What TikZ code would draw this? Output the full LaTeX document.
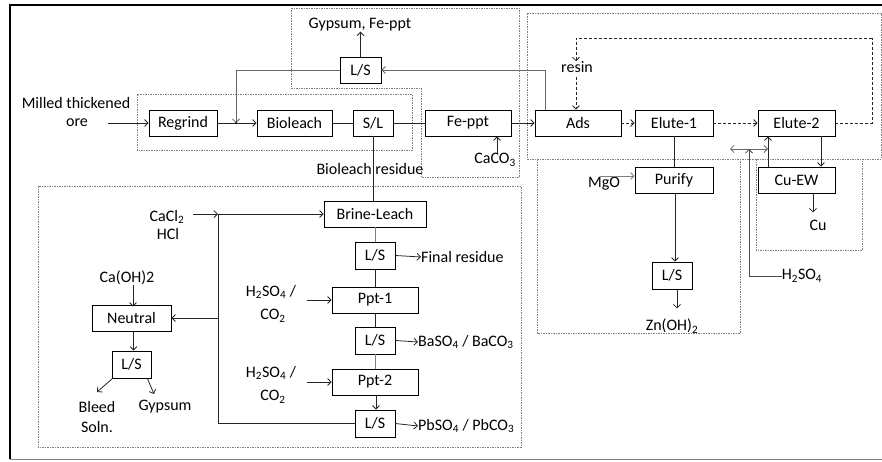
\documentclass[tikz,border=0pt]{standalone}
\usepackage{fontspec}
\setmainfont{Carlito}
\usetikzlibrary{arrows.meta,calc}
\newcommand{\sbs}[1]{\textsubscript{#1}}
\begin{document}
\begin{tikzpicture}[x=1pt,y=-1pt,
  font=\fontsize{16}{18}\selectfont,
  box/.style={draw, line width=0.8pt, inner sep=0pt, minimum height=26pt},
  lbl/.style={inner sep=0pt},
  ln/.style={line width=0.8pt, draw=black!85},
  arr/.style={ln, -{Straight Barb[length=3.5pt,width=7pt]}},
  darr/.style={arr, dash pattern=on 3pt off 2pt},
  dln/.style={ln, dash pattern=on 3pt off 2pt},
  grp/.style={draw=gray, line width=0.7pt, dash pattern=on 1.5pt off 1pt}]
\useasboundingbox (0,0) rectangle (882,461);
% outer frame
\draw[line width=2.5pt] (10,459) -- (10,5) -- (882,5);
\draw[gray, line width=0.8pt] (10,459) -- (882,459);
% group boxes
\draw[grp] (291,8) -- (519,8) -- (519,177) -- (421,177) -- (421,88) -- (291,88) -- cycle;
\draw[grp] (137,94) rectangle (412,150);
\draw[grp] (527,13) -- (881,13) -- (881,159) -- (527,159) -- cycle;
\draw[grp] (537,159) -- (537,333) -- (740,333) -- (740,159);
\draw[grp] (756,159) -- (756,250) -- (862,250) -- (862,159);
\draw[grp] (38,186) rectangle (521,447);
% process boxes
\node[box, minimum width=68pt] (regrind) at (183,123) {Regrind};
\node[box, minimum width=75pt] (bioleach) at (294.5,123) {Bioleach};
\node[box, minimum width=40pt] (sl) at (373,123) {S/L};
\node[box, minimum width=86pt] (feppt) at (468,123) {Fe-ppt};
\node[box, minimum width=41pt] (lstop) at (360.5,70) {L/S};
\node[box, minimum width=86pt] (ads) at (578,123) {Ads};
\node[box, minimum width=78pt] (elute1) at (674,123) {Elute-1};
\node[box, minimum width=77pt] (elute2) at (796.5,123) {Elute-2};
\node[box, minimum width=77pt] (cuew) at (796.5,180) {Cu-EW};
\node[box, minimum width=78pt] (purify) at (674,180) {Purify};
\node[box, minimum width=40pt, minimum height=27pt] (lszn) at (672,275.5) {L/S};
\node[box, minimum width=102pt] (brine) at (375,214) {Brine-Leach};
\node[box, minimum width=40pt, minimum height=27pt] (ls1) at (375,255.5) {L/S};
\node[box, minimum width=86pt] (ppt1) at (375,300) {Ppt-1};
\node[box, minimum width=40pt, minimum height=27pt] (ls2) at (375,340.5) {L/S};
\node[box, minimum width=86pt] (ppt2) at (375,382) {Ppt-2};
\node[box, minimum width=40pt, minimum height=27pt] (ls3) at (375,423.5) {L/S};
\node[box, minimum width=79pt] (neutral) at (131.5,318) {Neutral};
\node[box, minimum width=39pt, minimum height=27pt] (lsleft) at (131.5,364.5) {L/S};
% labels
\node[lbl] (milled) at (76,103) {Milled thickened};
\node[lbl] (ore) at (77,123) {ore};
\node[lbl] (gypfe) at (360,25) {Gypsum, Fe-ppt};
\node[lbl] (caco3) at (495,160) {CaCO\sbs{3}};
\node[lbl] (bres) at (370,169) {Bioleach residue};
\node[lbl] (resin) at (577,67) {resin};
\node[lbl] (mgo) at (604,184) {MgO};
\node[lbl] (znoh) at (672,326) {Zn(OH)\sbs{2}};
\node[lbl] (cu) at (818,225) {Cu};
\node[lbl] (h2so4r) at (802,276) {H\sbs{2}SO\sbs{4}};
\node[lbl, anchor=west] (finres) at (421,257) {Final residue};
\node[lbl, anchor=west] (baso4) at (418,342) {BaSO\sbs{4} / BaCO\sbs{3}};
\node[lbl, anchor=west] (pbso4) at (418,426) {PbSO\sbs{4} / PbCO\sbs{3}};
\node[lbl] (cacl2) at (167,217) {CaCl\sbs{2}};
\node[lbl] (hcl) at (168,234) {HCl};
\node[lbl] (caoh2) at (127,278) {Ca(OH)2};
\node[lbl] (hs1) at (271,292) {H\sbs{2}SO\sbs{4} /};
\node[lbl] (co1) at (273,316) {CO\sbs{2}};
\node[lbl] (hs2) at (271,373) {H\sbs{2}SO\sbs{4} /};
\node[lbl] (co2) at (273,397) {CO\sbs{2}};
\node[lbl] (bleed) at (97,407) {Bleed};
\node[lbl] (soln) at (97,427) {Soln.};
\node[lbl] (gyps) at (165,407) {Gypsum};
% free-end coordinates
\coordinate (oreout) at (108,123);
\coordinate (j1) at (236,123);
\coordinate (r1) at (872,38);
\coordinate (m1) at (600,176);
\coordinate (d1) at (730,149);
\coordinate (d2) at (768,149);
\coordinate (h1) at (749,276);
\coordinate (h2) at (749,149);
\coordinate (c1) at (193,214);
\coordinate (c2) at (218,214);
\coordinate (c3) at (218,318);
\coordinate (p1) at (307,300);
\coordinate (p2) at (307,382);
\coordinate (bl) at (97,392);
\coordinate (gy) at (154,394);
% connectors top row
\draw[arr] (oreout) -- (regrind.west);
\draw[arr] (regrind.east) -- (bioleach.west);
\draw[arr, draw=black!60] (lstop.west) -| (j1);
\fill (j1) circle (1.2pt);
\draw[ln] (bioleach.east) -- (sl.west);
\draw[ln] (sl.east) -- (feppt.west);
\draw[arr] (feppt.east) -- (ads.west);
\draw[arr, draw=black!60] ([xshift=-33pt]ads.north) |- (lstop.east);
\draw[arr] (lstop.north) -- (lstop.north |- gypfe.south);
\draw[arr] ([xshift=2pt]caco3.north) -- ([xshift=2pt]caco3.north |- feppt.south);
\draw[ln] (sl.south) -- (sl.south |- brine.north);
% resin loop
\draw[dln] (elute2.east) -| (r1);
\draw[darr] (r1) -| ([xshift=-1pt]resin.north);
\draw[darr] ([xshift=-1pt,yshift=-4pt]resin.south) -- ([xshift=-1pt]resin.south |- ads.north);
\draw[darr] (ads.east) -- (elute1.west);
\draw[darr] (elute1.east) -- (elute2.west);
% right side
\draw[ln] (elute1.south) -- (purify.north);
\draw[arr] ([xshift=1pt]purify.south) -- ([xshift=1pt]purify.south |- lszn.north);
\draw[arr] ([xshift=5pt]lszn.south) -- ([xshift=5pt,yshift=-19pt]lszn.south);
\draw[arr, draw=gray] (m1) -- (m1 -| purify.west);
\draw[arr] ([xshift=24.5pt]elute2.south) -- ([xshift=24.5pt]cuew.north);
\draw[arr] ([xshift=-28.5pt]cuew.north) -- ([xshift=-28.5pt]elute2.south);
\draw[arr, draw=black!60, {Straight Barb[length=3.5pt,width=7pt]}-{Straight Barb[length=3.5pt,width=7pt]}] (d1) -- (d2);
\draw[arr, draw=black!70] (h2so4r.west) -- (h1) -- (h2);
\draw[arr] ([xshift=16.5pt]cuew.south) -- ([xshift=16.5pt,yshift=-19pt]cuew.south);
% bottom-left
\draw[arr] (c1) -- (c2);
\draw[arr] (c2) -- (brine.west);
\draw[ln] (ls3.west) -| (c2);
\draw[arr] (c3) -- (neutral.east);
\draw[arr] ([xshift=6pt]caoh2.south) -- ([xshift=6pt,yshift=-2pt]caoh2.south |- neutral.north);
\draw[arr] ([xshift=2pt]neutral.south) -- ([xshift=2pt]lsleft.north);
\draw[arr] ([xshift=1pt]lsleft.south west) -- (bl);
\draw[arr] ([xshift=-4pt]lsleft.south east) -- (gy);
\draw[ln, draw=gray] (brine.south) -- (ls1.north);
\draw[ln] (ls1.south) -- (ppt1.north);
\draw[ln] (ppt1.south) -- (ls2.north);
\draw[ln, draw=gray] (ls2.south) -- (ppt2.north);
\draw[arr] ([xshift=1pt]ppt2.south) -- ([xshift=1pt]ls3.north);
\draw[arr] (ls1.east) -- (finres.west);
\draw[arr] (ls2.east) -- (baso4.west);
\draw[arr] (ls3.east) -- (pbso4.west);
\draw[arr] (p1) -- (ppt1.west);
\draw[arr] (p2) -- (ppt2.west);
\end{tikzpicture}
\end{document}
